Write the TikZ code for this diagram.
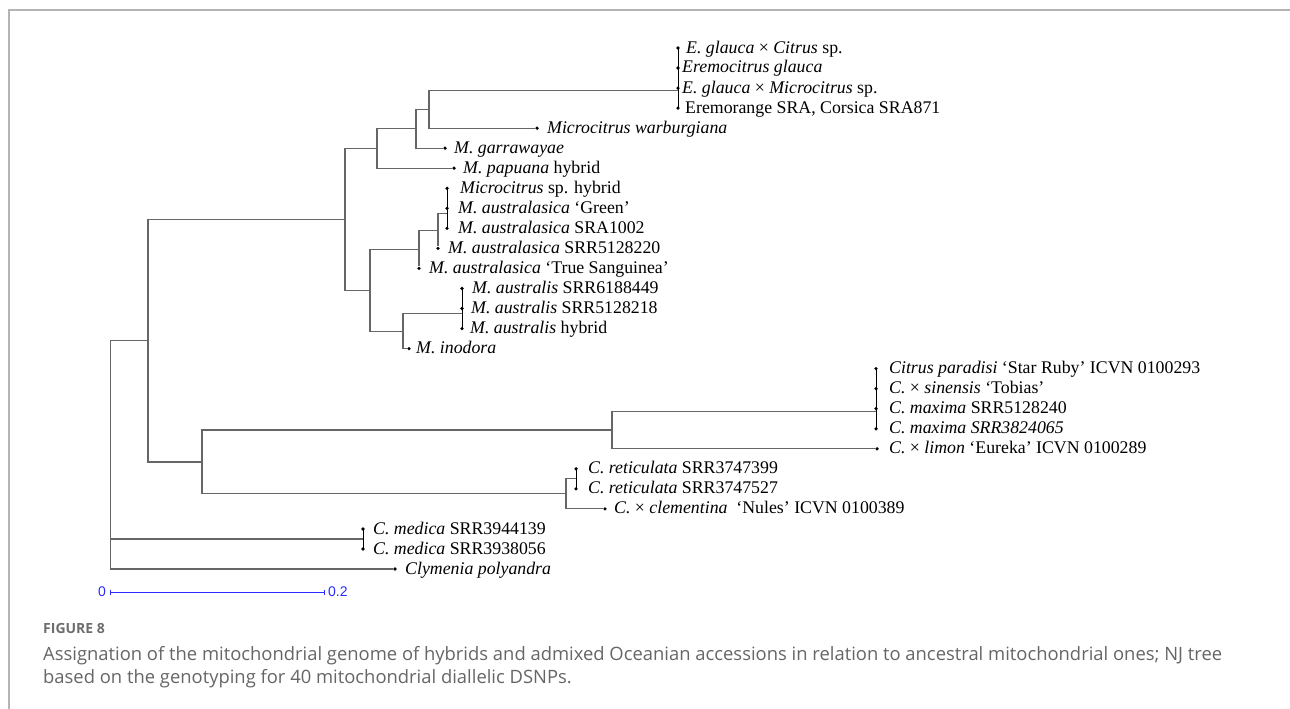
\documentclass[tikz,border=0pt]{standalone}
\usepackage{fontspec}
\setmainfont{Liberation Serif}
\newfontfamily\capfont{Open Sans}
\newfontfamily\sbfont{Liberation Sans}
\usetikzlibrary{calc}
\definecolor{brc}{HTML}{666666}
\definecolor{framec}{HTML}{B4B4B4}
\definecolor{sbc}{HTML}{2B2BFF}
\definecolor{capc}{HTML}{666666}
\definecolor{figc}{HTML}{6E6E6E}
\begin{document}
\begin{tikzpicture}[x=1pt,y=-1pt,
  br/.style={draw=brc,line width=1.1pt},
  poly/.style={draw=black,line width=1pt},
  tipdot/.style={circle,fill=black,inner sep=0pt,minimum size=3.6pt},
  lab/.style={anchor=base west,inner sep=0pt,font=\fontsize{17.8}{20}\selectfont,text=black},
  sblab/.style={inner sep=0pt,font=\sbfont\fontsize{14}{16}\selectfont,text=sbc},
  captxt/.style={anchor=base west,inner sep=0pt,font=\capfont\fontsize{18.4}{22}\selectfont,text=capc},
]
\useasboundingbox[fill=white] (0,0) rectangle (1290,709);
% frame
\draw[framec,line width=1.5pt] (9,709) -- (9,10) -- (1290,10);

% leaf tips
\node[tipdot] (l0)  at (678,48.0) {};
\node[tipdot] (l1)  at (678,68.0) {};
\node[tipdot] (l2)  at (678,88.1) {};
\node[tipdot] (l3)  at (678,108.1) {};
\node[tipdot] (l4)  at (537,128.2) {};
\node[tipdot] (l5)  at (445,148.2) {};
\node[tipdot] (l6)  at (454,168.2) {};
\node[tipdot] (l7)  at (447,188.3) {};
\node[tipdot] (l8)  at (447,208.3) {};
\node[tipdot] (l9)  at (447,228.4) {};
\node[tipdot] (l10) at (438,248.4) {};
\node[tipdot] (l11) at (419,268.4) {};
\node[tipdot] (l12) at (462,288.5) {};
\node[tipdot] (l13) at (462,308.5) {};
\node[tipdot] (l14) at (462,328.6) {};
\node[tipdot] (l15) at (409,348.6) {};
\node[tipdot] (l16) at (876,368.6) {};
\node[tipdot] (l17) at (876,388.7) {};
\node[tipdot] (l18) at (876,408.7) {};
\node[tipdot] (l19) at (876,428.8) {};
\node[tipdot] (l20) at (877,448.8) {};
\node[tipdot] (l21) at (576,468.8) {};
\node[tipdot] (l22) at (576,488.9) {};
\node[tipdot] (l23) at (605,508.9) {};
\node[tipdot] (l24) at (363,529.0) {};
\node[tipdot] (l25) at (363,549.0) {};
\node[tipdot] (l26) at (395,569.0) {};

% labels
\node[lab] (t0)  at ($(l0)+(8,5)$)  {\textit{E. glauca} × \textit{Citrus} sp.};
\node[lab] (t1)  at ($(l1)+(4,5)$)  {\textit{Eremocitrus glauca}};
\node[lab] (t2)  at ($(l2)+(4,5)$)  {\textit{E. glauca} × \textit{Microcitrus} sp.};
\node[lab] (t3)  at ($(l3)+(7,5)$)  {Eremorange SRA, Corsica SRA871};
\node[lab] (t4)  at ($(l4)+(10,5)$) {\textit{Microcitrus warburgiana}};
\node[lab] (t5)  at ($(l5)+(9,5)$)  {\textit{M. garrawayae}};
\node[lab] (t6)  at ($(l6)+(9,5)$)  {\textit{M. papuana} hybrid};
\node[lab] (t7)  at ($(l7)+(13,5)$) {\textit{Microcitrus} sp. hybrid};
\node[lab] (t8)  at ($(l8)+(11,5)$) {\textit{M. australasica} ‘Green’};
\node[lab] (t9)  at ($(l9)+(11,5)$) {\textit{M. australasica} SRA1002};
\node[lab] (t10) at ($(l10)+(10,5)$) {\textit{M. australasica} SRR5128220};
\node[lab] (t11) at ($(l11)+(10,5)$) {\textit{M. australasica} ‘True Sanguinea’};
\node[lab] (t12) at ($(l12)+(10,5)$) {\textit{M. australis} SRR6188449};
\node[lab] (t13) at ($(l13)+(9,5)$)  {\textit{M. australis} SRR5128218};
\node[lab] (t14) at ($(l14)+(8,5)$)  {\textit{M. australis} hybrid};
\node[lab] (t15) at ($(l15)+(7,5)$)  {\textit{M. inodora}};
\node[lab] (t16) at ($(l16)+(13,5)$) {\textit{Citrus paradisi} ‘Star Ruby’ ICVN 0100293};
\node[lab] (t17) at ($(l17)+(13,5)$) {\textit{C.} × \textit{sinensis} ‘Tobias’};
\node[lab] (t18) at ($(l18)+(13,5)$) {\textit{C. maxima} SRR5128240};
\node[lab] (t19) at ($(l19)+(13,5)$) {\textit{C. maxima SRR3824065}};
\node[lab] (t20) at ($(l20)+(12,5)$) {\textit{C.} × \textit{limon} ‘Eureka’ ICVN 0100289};
\node[lab] (t21) at ($(l21)+(12,5)$) {\textit{C. reticulata} SRR3747399};
\node[lab] (t22) at ($(l22)+(12,5)$) {\textit{C. reticulata} SRR3747527};
\node[lab] (t23) at ($(l23)+(9,5)$)  {\textit{C.} × \textit{clementina}\ \ ‘Nules’ ICVN 0100389};
\node[lab] (t24) at ($(l24)+(10,5)$) {\textit{C. medica} SRR3944139};
\node[lab] (t25) at ($(l25)+(10,5)$) {\textit{C. medica} SRR3938056};
\node[lab] (t26) at ($(l26)+(10,5)$) {\textit{Clymenia polyandra}};

% internal nodes
\coordinate (gere) at (678,90.6);
\coordinate (n429) at (429,109.4);
\coordinate (n416) at (416,128.8);
\coordinate (n377) at (377,148.5);
\coordinate (gaus) at (447,213.3);
\coordinate (n438) at (438,230.9);
\coordinate (n419) at (419,249.6);
\coordinate (gtr)  at (462,313.6);
\coordinate (n403) at (403,331.1);
\coordinate (n370) at (370,290.4);
\coordinate (n345) at (345,219.4);
\coordinate (gcit) at (876,411.2);
\coordinate (n612) at (612,430.0);
\coordinate (gret) at (576,478.9);
\coordinate (n566) at (566,493.9);
\coordinate (n202) at (202,462.0);
\coordinate (n148) at (148,340.7);
\coordinate (gmed) at (363,539.0);
\coordinate (root) at (110.7,454.9);

% polytomy bars
\draw[poly] (l0.center) -- (l3.center);
\draw[poly] (l7.center) -- (l9.center);
\draw[poly] (l12.center) -- (l14.center);
\draw[poly] (l16.center) -- (l19.center);
\draw[poly] (l21.center) -- (l22.center);
\draw[poly] (l24.center) -- (l25.center);

% branches
\draw[br] (n429) |- (gere);
\draw[br] (n429) |- (l4);
\draw[br] (n416) |- (n429);
\draw[br] (n416) |- (l5);
\draw[br] (n377) |- (n416);
\draw[br] (n377) |- (l6);
\draw[br] (n438) |- (gaus);
\draw[br] (n438) -- (l10);
\draw[br] (n419) |- (n438);
\draw[br] (n419) -- (l11);
\draw[br] (n403) |- (gtr);
\draw[br] (n403) |- (l15);
\draw[br] (n370) |- (n419);
\draw[br] (n370) |- (n403);
\draw[br] (n345) |- (n377);
\draw[br] (n345) |- (n370);
\draw[br] (n612) |- (gcit);
\draw[br] (n612) |- (l20);
\draw[br] (n566) |- (gret);
\draw[br] (n566) |- (l23);
\draw[br] (n202) |- (n612);
\draw[br] (n202) |- (n566);
\draw[br] (n148) |- (n345);
\draw[br] (n148) |- (n202);
\draw[br] (root) |- (n148);
\draw[br] (root) |- (gmed);
\draw[br] (root) |- (l26);

% scale bar
\coordinate (s0) at (110,592);
\coordinate (s1) at (324,592);
\draw[sbc,line width=1pt] (s0) -- (s1);
\draw[sbc,line width=1pt] ($(s0)+(0,-2.5)$) -- ($(s0)+(0,2.5)$);
\draw[sbc,line width=1pt] ($(s1)+(0,-2.5)$) -- ($(s1)+(0,2.5)$);
\node[sblab,anchor=east] (sb0) at ($(s0)+(-4,0)$) {0};
\node[sblab,anchor=west] (sb1) at ($(s1)+(4,0)$) {0.2};

% caption
\node[anchor=base west,inner sep=0pt,font=\capfont\bfseries\fontsize{14}{16}\selectfont,text=figc] (fig) at (43,633) {FIGURE 8};
\node[captxt] (c1) at (43,660) {Assignation of the mitochondrial genome of hybrids and admixed Oceanian accessions in relation to ancestral mitochondrial ones; NJ tree};
\node[captxt] (c2) at (43,683) {based on the genotyping for 40 mitochondrial diallelic DSNPs.};
\end{tikzpicture}
\end{document}
